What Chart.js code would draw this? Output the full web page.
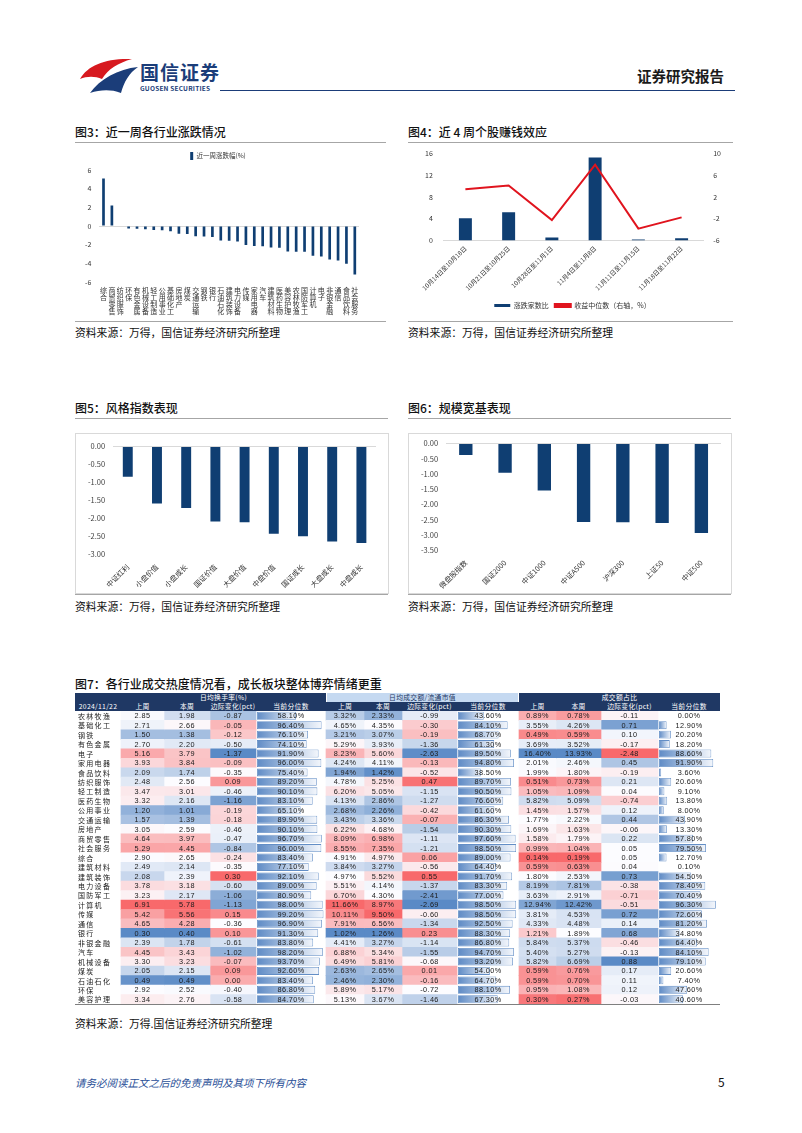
<!DOCTYPE html>
<html>
<head>
<meta charset="utf-8">
<script src="https://cdn.jsdelivr.net/npm/chart.js@4.4.1/dist/chart.umd.min.js"></script>
<style>
  body { margin:0; background:#fff; font-family:'Noto Sans CJK SC','Noto Sans',sans-serif; }
  #page { position:relative; width:802px; height:1133px; overflow:hidden; }
  .abs { position:absolute; }
  .title { position:absolute; font-size:12px; font-weight:500; color:#111; white-space:nowrap; }
  .src { position:absolute; font-size:10.8px; color:#111; white-space:nowrap; }
  .rule { position:absolute; height:0; border-top:1.5px solid #a6a6a6; }
  .box { position:absolute; border:1px solid #d9d9d9; }
  .th { position:absolute; font-size:6.8px; color:#fff; text-align:center; line-height:9px; white-space:nowrap; letter-spacing:0.3px; }
  canvas { position:absolute; }
</style>
</head>
<body>
<div id="page">
  <!-- header -->
  <svg class="abs" style="left:78px;top:55px" width="62" height="40" viewBox="0 0 62 40">
    <path d="M2 24 C 10 10, 28 3, 54 4 C 40 8, 30 14, 24 24 C 17 21, 9 21, 2 24 Z" fill="#d7191f"/>
    <path d="M12 38 C 22 24, 40 14, 60 12 C 51 18, 46 27, 43 38 C 32 34, 22 35, 12 38 Z" fill="#1b3d79"/>
  </svg>
  <div class="abs" style="left:140px;top:58px;font-size:19px;font-weight:700;color:#1b3d79;letter-spacing:1px;">国信证券</div>
  <div class="abs" style="left:140px;top:83px;font-size:6.5px;font-weight:700;color:#1b3d79;letter-spacing:0.2px;">GUOSEN SECURITIES</div>
  <div class="abs" style="left:637px;top:65px;font-size:14.5px;font-weight:700;color:#1a1a1a;">证券研究报告</div>
  <div class="abs" style="left:220px;top:90px;width:515px;border-top:1.5px solid #1b3d79;"></div>

  <!-- fig 3 -->
  <div class="title" style="left:75px;top:123px;">图3：近一周各行业涨跌情况</div>
  <div class="rule" style="left:75px;top:142px;width:311px;"></div>
  <canvas id="c3" width="310" height="174" style="left:75px;top:146px;"></canvas>
  <div class="rule" style="left:75px;top:321px;width:311px;"></div>
  <div class="src" style="left:75px;top:324px;">资料来源：万得，国信证券经济研究所整理</div>

  <!-- fig 4 -->
  <div class="title" style="left:408px;top:123px;">图4：近 4 周个股赚钱效应</div>
  <div class="rule" style="left:408px;top:142px;width:325px;"></div>
  <canvas id="c4" width="325" height="174" style="left:408px;top:146px;"></canvas>
  <div class="rule" style="left:408px;top:321px;width:325px;"></div>
  <div class="src" style="left:408px;top:324px;">资料来源：万得，国信证券经济研究所整理</div>

  <!-- fig 5 -->
  <div class="title" style="left:75px;top:399px;">图5：风格指数表现</div>
  <div class="rule" style="left:75px;top:418px;width:313px;"></div>
  <div class="box" style="left:75px;top:433px;width:312px;height:159px;"></div>
  <canvas id="c5" width="310" height="157" style="left:76px;top:434px;"></canvas>
  <div class="rule" style="left:75px;top:594px;width:313px;"></div>
  <div class="src" style="left:75px;top:598px;">资料来源：万得，国信证券经济研究所整理</div>

  <!-- fig 6 -->
  <div class="title" style="left:408px;top:399px;">图6：规模宽基表现</div>
  <div class="rule" style="left:408px;top:418px;width:323px;"></div>
  <div class="box" style="left:408px;top:433px;width:322px;height:159px;"></div>
  <canvas id="c6" width="320" height="160" style="left:409px;top:431px;"></canvas>
  <div class="rule" style="left:408px;top:594px;width:323px;"></div>
  <div class="src" style="left:408px;top:598px;">资料来源：万得，国信证券经济研究所整理</div>

  <!-- fig 7 -->
  <div class="title" style="left:75px;top:675px;">图7：各行业成交热度情况看，成长板块整体博弈情绪更重</div>
  <div class="abs" style="left:75px;top:693px;width:645px;height:18px;background:#1f3864;"></div>
  <div class="abs" style="left:326px;top:693px;width:193px;height:9px;background:#c5d9f1;border-left:1px solid #fff;border-right:1px solid #fff;box-sizing:border-box;"></div>
  <div id="thead"></div>
  <canvas id="c7" width="645" height="293" style="left:75px;top:711px;"></canvas>
  <div class="abs" style="left:75px;top:1004px;width:645px;border-top:1px solid #7f7f7f;"></div>
  <div class="src" style="left:75px;top:1015px;">资料来源：万得.国信证券经济研究所整理</div>

  <!-- footer -->
  <div class="abs" style="left:75px;top:1075px;font-size:10.5px;font-style:italic;color:#2a4f97;">请务必阅读正文之后的免责声明及其项下所有内容</div>
  <div class="abs" style="left:718px;top:1073px;font-size:12px;color:#111;">5</div>
</div>

<script>
// ---------- figure 3: weekly industry change ----------
const weekIndustries = ['综合','商贸零售','纺织服饰','环保','有色金属','机械设备','轻工制造','公用事业','基础化工','房地产','煤炭','交通运输','钢铁','银行','石油石化','建筑装饰','电力设备','传媒','家用电器','汽车','建筑材料','医药生物','美容护理','农林牧渔','国防军工','计算机','电子','非银金融','通信','食品饮料','社会服务'];
const weekChange = [5.1,2.2,-0.05,-0.26,-0.3,-0.35,-0.42,-0.45,-0.57,-0.83,-0.87,-1.1,-1.12,-1.17,-1.55,-1.58,-1.66,-2.04,-2.15,-2.17,-2.3,-2.34,-2.72,-2.75,-2.77,-3.2,-3.28,-3.58,-3.7,-4.04,-5.2];

// ---------- figure 4: money-making effect ----------
const weekRanges = ['10月14日至10月18日','10月21日至10月25日','10月28日至11月1日','11月4日至11月8日','11月11日至11月15日','11月18日至11月22日'];
const upDownRatio = [4.1,5.2,0.55,15.2,0.2,0.45];
const medianReturn = [3.4,4.1,-2.25,7.9,-3.8,-1.75];

// ---------- figure 5: style indices ----------
const styleNames = ['中证红利','小盘价值','小盘成长','国证价值','大盘价值','中盘价值','国证成长','大盘成长','中盘成长'];
const styleChange = [-0.84,-1.58,-1.71,-2.08,-2.10,-2.42,-2.49,-2.64,-2.68];

// ---------- figure 6: size indices ----------
const sizeNames = ['微盘股指数','国证2000','中证1000','中证A500','沪深300','上证50','中证500'];
const sizeChange = [-0.38,-0.96,-1.54,-2.57,-2.58,-2.60,-2.93];

// ---------- figure 7: trading heat table ----------
const tableRows = ['农林牧渔','基础化工','钢铁','有色金属','电子','家用电器','食品饮料','纺织服饰','轻工制造','医药生物','公用事业','交通运输','房地产','商贸零售','社会服务','综合','建筑材料','建筑装饰','电力设备','国防军工','计算机','传媒','通信','银行','非银金融','汽车','机械设备','煤炭','石油石化','环保','美容护理'];
const turnLast = [2.85,2.71,1.50,2.70,5.16,3.93,2.09,2.48,3.47,3.32,1.20,1.57,3.05,4.64,5.29,2.90,2.49,2.08,3.78,3.23,6.91,5.42,4.65,0.30,2.39,4.45,3.30,2.05,0.49,2.92,3.34];
const turnThis = [1.98,2.66,1.38,2.20,3.79,3.84,1.74,2.56,3.01,2.16,1.01,1.39,2.59,3.97,4.45,2.65,2.14,2.39,3.18,2.17,5.78,5.56,4.28,0.40,1.78,3.43,3.23,2.15,0.49,2.52,2.76];
const turnChg = [-0.87,-0.05,-0.12,-0.50,-1.37,-0.09,-0.35,0.09,-0.46,-1.16,-0.19,-0.18,-0.46,-0.47,-0.84,-0.24,-0.35,0.30,-0.60,-1.06,-1.13,0.15,-0.36,0.10,-0.61,-1.02,-0.07,0.09,0.00,-0.40,-0.58];
const turnPct = [58.10,96.40,76.10,74.10,91.90,96.00,75.40,89.20,90.10,83.10,65.10,89.90,90.10,96.70,96.00,83.40,77.10,92.10,89.00,80.90,98.00,99.20,96.90,91.30,83.80,98.20,93.70,92.60,83.40,86.80,84.70];
const amtLast = [3.32,4.65,3.21,5.29,8.23,4.24,1.94,4.78,6.20,4.13,2.68,3.43,6.22,8.09,8.55,4.91,3.84,4.97,5.51,6.70,11.66,10.11,7.91,1.02,4.41,6.88,6.49,2.63,2.46,5.89,5.13];
const amtThis = [2.33,4.35,3.07,3.93,5.60,4.11,1.42,5.25,5.05,2.86,2.26,3.36,4.68,6.98,7.35,4.97,3.27,5.52,4.14,4.30,8.97,9.50,6.56,1.26,3.27,5.34,5.81,2.65,2.30,5.17,3.67];
const amtChg = [-0.99,-0.30,-0.19,-1.36,-2.63,-0.13,-0.52,0.47,-1.15,-1.27,-0.42,-0.07,-1.54,-1.11,-1.21,0.06,-0.56,0.55,-1.37,-2.41,-2.69,-0.60,-1.34,0.23,-1.14,-1.55,-0.68,0.01,-0.16,-0.72,-1.46];
const amtPct = [43.60,84.10,68.70,61.30,89.50,94.80,38.50,89.70,90.50,76.60,61.60,86.30,90.30,97.60,98.50,89.00,64.40,91.70,83.30,77.00,98.50,98.50,92.50,88.30,86.80,94.70,93.20,54.00,64.70,88.10,67.30];
const shareLast = [0.89,3.55,0.49,3.69,16.40,2.01,1.99,0.51,1.05,5.82,1.45,1.77,1.69,1.58,0.99,0.14,0.59,1.80,8.19,3.63,12.94,3.81,4.33,1.21,5.84,5.40,5.82,0.59,0.59,0.95,0.30];
const shareThis = [0.78,4.26,0.59,3.52,13.93,2.46,1.80,0.73,1.09,5.09,1.57,2.22,1.63,1.79,1.04,0.19,0.63,2.53,7.81,2.91,12.42,4.53,4.48,1.89,5.37,5.27,6.69,0.76,0.70,1.08,0.27];
const shareChg = [-0.11,0.71,0.10,-0.17,-2.48,0.45,-0.19,0.21,0.04,-0.74,0.12,0.44,-0.06,0.22,0.05,0.05,0.04,0.73,-0.38,-0.71,-0.51,0.72,0.14,0.68,-0.46,-0.13,0.88,0.17,0.11,0.12,-0.03];
const sharePct = [0.00,12.90,20.20,18.20,88.60,91.90,3.60,20.60,9.10,13.80,8.00,43.90,13.30,57.80,79.50,12.70,0.10,54.50,78.40,70.40,96.30,72.60,81.20,34.80,64.40,84.10,79.10,20.60,7.40,47.60,40.60];

const NAVY = '#0f3e72';
Chart.defaults.font.family = "'Noto Sans CJK SC','Noto Sans',sans-serif";
Chart.defaults.color = '#404040';
Chart.defaults.animation = false;
Chart.defaults.plugins.tooltip.enabled = false;

const zeroGrid = {
  drawTicks: false,
  color: ctx => (ctx.tick && ctx.tick.value === 0) ? '#d9d9d9' : 'rgba(0,0,0,0)'
};

// fig 3
new Chart(document.getElementById('c3'), {
  type: 'bar',
  data: {
    labels: weekIndustries.map(s => s.split('')),
    datasets: [{ label: '近一周涨跌幅(%)', data: weekChange, backgroundColor: NAVY,
                 barPercentage: 0.32, categoryPercentage: 1 }]
  },
  options: {
    responsive: false,
    layout: { padding: { left: 2, right: 26, top: 2, bottom: 0 } },
    plugins: { legend: { position: 'top', labels: { boxWidth: 3, boxHeight: 8, padding: 4, font: { size: 6.5 }, color: '#333' } } },
    scales: {
      x: { grid: { display: false, drawTicks: false }, border: { display: false },
           ticks: { autoSkip: false, maxRotation: 0, minRotation: 0, padding: 5, font: { size: 7, lineHeight: 1.0 }, color: '#333' } },
      y: { min: -6, max: 6, grid: zeroGrid, border: { display: false },
           ticks: { stepSize: 2, padding: 8, font: { size: 7 }, color: '#333' } }
    }
  }
});

// fig 4
new Chart(document.getElementById('c4'), {
  type: 'bar',
  data: {
    labels: weekRanges,
    datasets: [
      { type: 'line', label: '收益中位数（右轴，%）', data: medianReturn, yAxisID: 'y1',
        borderColor: '#e0141e', backgroundColor: '#e0141e', borderWidth: 2, pointRadius: 0, tension: 0, order: 0 },
      { type: 'bar', label: '涨跌家数比', data: upDownRatio, yAxisID: 'y', backgroundColor: NAVY,
        barPercentage: 0.3, categoryPercentage: 1, order: 1 }
    ]
  },
  options: {
    responsive: false,
    layout: { padding: { left: 14, right: 10, top: 5, bottom: 1 } },
    plugins: { legend: { position: 'bottom', reverse: true,
      labels: { boxWidth: 16, boxHeight: 3, padding: 6, font: { size: 7 }, color: '#333' } } },
    scales: {
      x: { grid: { display: false, drawTicks: false }, border: { color: '#d9d9d9' },
           ticks: { autoSkip: false, maxRotation: 45, minRotation: 45, padding: 4, font: { size: 6.3 }, color: '#333' } },
      y: { position: 'left', min: 0, max: 16, grid: { display: false }, border: { display: false },
           ticks: { stepSize: 2, font: { size: 7 }, color: '#333' } },
      y1: { position: 'right', min: -6, max: 10, grid: { display: false }, border: { display: false },
           ticks: { stepSize: 2, padding: 2, font: { size: 7 }, color: '#333' } }
    }
  }
});

// fig 5 / fig 6
function negBars(id, labels, values, minV, pad) {
  new Chart(document.getElementById(id), {
    type: 'bar',
    data: { labels: labels, datasets: [{ data: values, backgroundColor: NAVY, barPercentage: 0.34, categoryPercentage: 1 }] },
    options: {
      responsive: false,
      layout: { padding: pad },
      plugins: { legend: { display: false } },
      scales: {
        x: { grid: { display: false }, border: { display: false },
             ticks: { autoSkip: false, maxRotation: 45, minRotation: 45, padding: 0, font: { size: 7.2 }, color: '#333' } },
        y: { min: minV, max: 0, grid: zeroGrid, border: { display: false },
             ticks: { stepSize: 0.5, padding: 8, font: { size: 7.5 }, color: '#404040', callback: v => v.toFixed(2) } }
      }
    }
  });
}
negBars('c5', styleNames, styleChange, -3, { left: 4, right: 10, top: 4, bottom: 2 });
negBars('c6', sizeNames, sizeChange, -3.5, { left: 4, right: 8, top: 1, bottom: 1 });

// ---------- table ----------
const colEdges = [0, 46, 89, 135, 181, 251, 289, 327, 382, 444, 481, 526, 583, 645];
const groupHeads = [['日均换手率(%)', 1, 5, '#fff'], ['日均成交额/流通市值', 5, 9, '#1f3864'], ['成交额占比', 9, 13, '#fff']];
const subHeads = ['2024/11/22', '上周', '本周', '边际变化(pct)', '当前分位数', '上周', '本周', '边际变化(pct)', '当前分位数', '上周', '本周', '边际变化(pct)', '当前分位数'];

const thead = document.getElementById('thead');
groupHeads.forEach(([t, a, b, col]) => {
  const d = document.createElement('div');
  d.className = 'th';
  d.style.cssText = `left:${75 + colEdges[a]}px;top:693px;width:${colEdges[b] - colEdges[a]}px;color:${col};`;
  d.textContent = t;
  thead.appendChild(d);
});
subHeads.forEach((t, i) => {
  const d = document.createElement('div');
  d.className = 'th';
  d.style.cssText = `left:${75 + colEdges[i]}px;top:702px;width:${colEdges[i + 1] - colEdges[i]}px;`;
  d.textContent = t;
  thead.appendChild(d);
});

const LOW = [90, 138, 198], MID = [252, 252, 255], HIGH = [248, 105, 107];
function mix(a, b, f) { return 'rgb(' + a.map((v, i) => Math.round(v + (b[i] - v) * f)).join(',') + ')'; }
function heatColors(values, reverse) {
  const s = [...values].sort((a, b) => a - b);
  const min = s[0], max = s[s.length - 1];
  const mid = s[Math.floor(s.length / 2)];
  const lo = reverse ? HIGH : LOW, hi = reverse ? LOW : HIGH;
  return values.map(v => v <= mid ? mix(lo, MID, mid === min ? 1 : (v - min) / (mid - min))
                                  : mix(MID, hi, (v - mid) / (max - mid)));
}

const fix2 = v => v.toFixed(2);
const pct2 = v => v.toFixed(2) + '%';
const tableCols = [
  { values: turnLast, fmt: fix2, kind: 'heat' },
  { values: turnThis, fmt: fix2, kind: 'heat' },
  { values: turnChg, fmt: fix2, kind: 'heat' },
  { values: turnPct, fmt: pct2, kind: 'bar' },
  { values: amtLast, fmt: pct2, kind: 'heat' },
  { values: amtThis, fmt: pct2, kind: 'heat' },
  { values: amtChg, fmt: fix2, kind: 'heat' },
  { values: amtPct, fmt: pct2, kind: 'bar' },
  { values: shareLast, fmt: pct2, kind: 'heat', reverse: true },
  { values: shareThis, fmt: pct2, kind: 'heat', reverse: true },
  { values: shareChg, fmt: fix2, kind: 'heat', reverse: true },
  { values: sharePct, fmt: pct2, kind: 'bar' }
];

function barGradient(ctx) {
  const xs = ctx.chart.scales.x;
  if (!xs || !Array.isArray(ctx.raw)) return '#7fa3d3';
  const x0 = xs.getPixelForValue(ctx.raw[0]), x1 = xs.getPixelForValue(ctx.raw[1]);
  if (!isFinite(x0) || !isFinite(x1)) return '#7fa3d3';
  if (x1 - x0 < 1) return 'rgba(0,0,0,0)';
  const g = ctx.chart.ctx.createLinearGradient(x0, 0, x1, 0);
  g.addColorStop(0, '#5f8bc5');
  g.addColorStop(1, '#f4f7fc');
  return g;
}

const NUM_FONT = "7.3px 'Liberation Sans', 'DejaVu Sans', sans-serif";
const tableSets = [{
  data: tableRows.map(() => [colEdges[0], colEdges[1]]),
  backgroundColor: 'rgba(0,0,0,0)', texts: tableRows, textAlign: 'left',
  textFont: "7px 'Noto Sans CJK SC', sans-serif", spacing: '1.3px'
}];
tableCols.forEach((col, i) => {
  const a = colEdges[i + 1], b = colEdges[i + 2];
  tableSets.push({
    data: col.values.map(() => [a, b]),
    backgroundColor: col.kind === 'heat' ? heatColors(col.values, col.reverse) : 'rgba(0,0,0,0)',
    texts: col.values.map(col.fmt), textFont: NUM_FONT, spacing: '0.4px'
  });
  if (col.kind === 'bar') {
    tableSets.push({
      data: col.values.map(v => [a + 1, a + 1 + (b - a - 3) * v / 100]),
      barPercentage: 0.84,
      borderSkipped: false,
      borderWidth: 0.8,
      borderColor: col.values.map(v => v >= 1 ? '#638ec6' : 'rgba(0,0,0,0)'),
      backgroundColor: barGradient
    });
  }
});

const cellText = {
  id: 'cellText',
  afterDatasetsDraw(chart) {
    const c = chart.ctx;
    chart.data.datasets.forEach((ds, i) => {
      if (!ds.texts) return;
      const meta = chart.getDatasetMeta(i);
      c.save();
      c.font = ds.textFont;
      if ('letterSpacing' in c) c.letterSpacing = ds.spacing || '0px';
      c.fillStyle = '#1a1a1a';
      c.textBaseline = 'middle';
      meta.data.forEach((el, j) => {
        const p = el.getProps(['x', 'y', 'base'], true);
        const l = Math.min(p.x, p.base), r = Math.max(p.x, p.base);
        if (ds.textAlign === 'left') { c.textAlign = 'left'; c.fillText(ds.texts[j], l + 3, p.y + 0.5); }
        else { c.textAlign = 'center'; c.fillText(ds.texts[j], (l + r) / 2, p.y + 0.5); }
      });
      c.restore();
    });
  }
};

new Chart(document.getElementById('c7'), {
  type: 'bar',
  data: { labels: tableRows, datasets: tableSets.map(d => Object.assign({ grouped: false, barPercentage: 1, categoryPercentage: 1, borderWidth: 0 }, d)) },
  options: {
    indexAxis: 'y',
    responsive: false,
    layout: { padding: 0 },
    plugins: { legend: { display: false } },
    scales: {
      x: { type: 'linear', min: 0, max: 645, display: false },
      y: { type: 'category', display: false, grid: { display: false } }
    }
  },
  plugins: [cellText]
});
</script>
</body>
</html>
